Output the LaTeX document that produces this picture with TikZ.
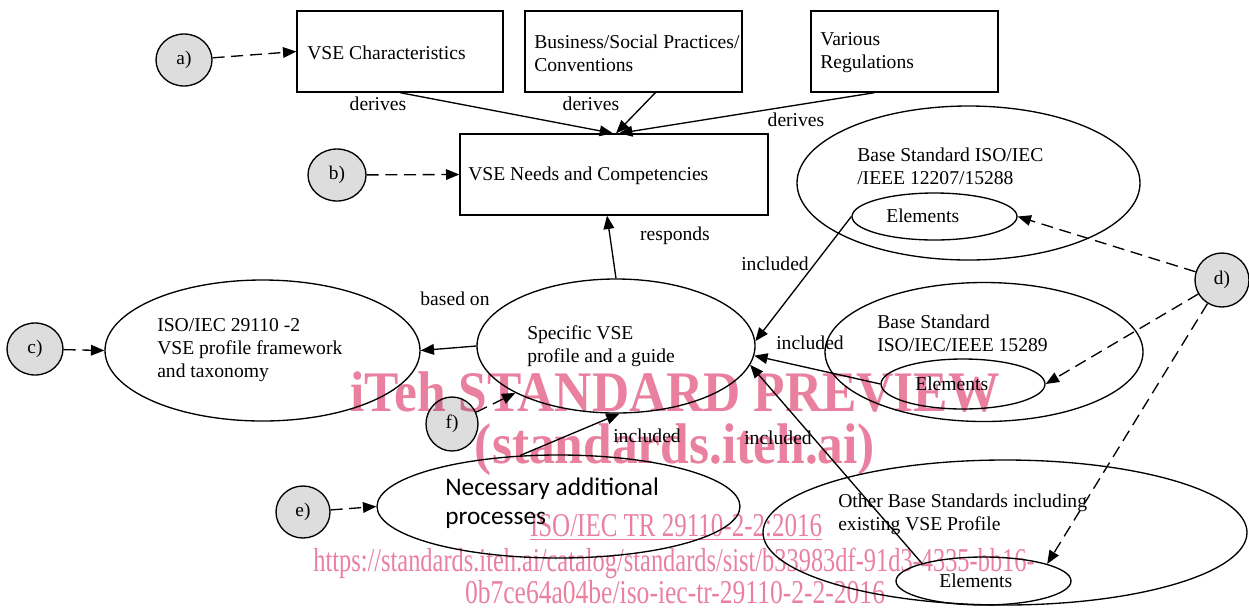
\documentclass[tikz,border=0pt]{standalone}
\usepackage{fontspec}
\setmainfont{Liberation Serif}
\newfontfamily\calib{Carlito}
\usetikzlibrary{shapes.geometric,arrows.meta,calc}
\definecolor{circgray}{RGB}{221,221,221}
\definecolor{wmpink}{RGB}{234,128,160}
\begin{document}
\begin{tikzpicture}[x=0.75pt,y=-0.75pt,
  lab/.style={ellipse,draw,line width=1pt,fill=circgray,inner sep=0pt,font=\fontsize{14.5}{16}\selectfont},
  box/.style={rectangle,draw,line width=1pt,inner sep=0pt},
  ell/.style={ellipse,draw,line width=1pt,inner sep=0pt},
  txt/.style={anchor=west,inner sep=0pt,align=left,font=\fontsize{14.7}{17.25}\selectfont},
  edgelbl/.style={inner sep=0pt,font=\fontsize{14.7}{16}\selectfont},
  arr/.style={line width=1pt,-{Triangle[length=10pt,width=8pt]}},
  darr/.style={arr,dash pattern=on 9pt off 5pt},
  wm/.style={inner sep=0pt,text=wmpink}]
\useasboundingbox (0,0) rectangle (1249,608);

% boxes
\node[box,minimum width=154.5pt,minimum height=60.75pt] (char) at (400,51.5) {};
\node[txt] (chart) at (307,53) {VSE Characteristics};
\node[box,minimum width=162.75pt,minimum height=60.75pt] (business) at (633.5,51.5) {};
\node[txt] (businesst) at (534,53) {Business/Social Practices/\\Conventions};
\node[box,minimum width=140.25pt,minimum height=60.75pt] (various) at (904.5,51.5) {};
\node[txt] (variousst) at (820,53) {Various\\Regulations};
\node[box,minimum width=231pt,minimum height=60.75pt] (needs) at (614,174.5) {};
\node[txt] (needst) at (468,176) {VSE Needs and Competencies};

% ellipses
\node[ell,minimum width=236.25pt,minimum height=105.75pt] (iso) at (262.5,350.5) {};
\node[txt] (isot) at (157,350) {ISO/IEC 29110 -2\\VSE profile framework\\and taxonomy};
\node[ell,minimum width=208.5pt,minimum height=100.5pt] (spec) at (616,346) {};
\node[txt] (spect) at (527,346) {Specific VSE\\profile and a guide};
\node[ell,minimum width=272.25pt,minimum height=77.25pt] (nec) at (558.5,506.5) {};
\node[txt,font=\calib\fontsize{19}{22}\selectfont] (nect) at (445,503) {Necessary additional\\processes};

\node[ell,minimum width=257.25pt,minimum height=115.5pt] (base1) at (968.5,183) {};
\node[txt] (base1t) at (857,166) {Base Standard ISO/IEC\\/IEEE 12207/15288};
\node[ell,minimum width=123.75pt,minimum height=35.25pt] (elem1) at (934.5,216.5) {};
\node[txt] (elem1t) at (886,216) {Elements};

\node[ell,minimum width=238.5pt,minimum height=104.25pt] (base2) at (984,352) {};
\node[txt] (base2t) at (877,333) {Base Standard\\ISO/IEC/IEEE 15289};
\node[ell,minimum width=123pt,minimum height=37.5pt] (elem2) at (963,384) {};
\node[txt] (elem2t) at (915,384) {Elements};

\node[ell,minimum width=363pt,minimum height=108.75pt] (other) at (1005,532.5) {};
\node[txt] (othert) at (838,514) {Other Base Standards including\\existing VSE Profile};
\node[ell,minimum width=131.25pt,minimum height=36pt] (elem3) at (983.5,581) {};
\node[txt] (elem3t) at (939,581) {Elements};

% letter circles
\node[lab,minimum width=42pt,minimum height=39pt] (a) at (184,60) {a)};
\node[lab,minimum width=43.5pt,minimum height=39pt] (b) at (337,175) {b)};
\node[lab,minimum width=42pt,minimum height=39pt] (c) at (35,349) {c)};
\node[lab,minimum width=40.5pt,minimum height=40.5pt] (d) at (1222,280) {d)};
\node[lab,minimum width=40.5pt,minimum height=39pt] (e) at (303,512) {e)};
\node[lab,minimum width=39pt,minimum height=40.5pt] (f) at (452,424) {f)};

% dashed pointers
\draw[darr] (a) -- (char.west);
\draw[darr] (b) -- (needs.west);
\draw[darr] (c) -- (iso.west);
\draw[darr] (e) -- (nec.west);
\draw[darr] (f) -- (spec.205);
\draw[darr] (d) -- (elem1.east);
\draw[darr] (d) -- (elem2.east);
\draw[darr] (d) -- (elem3.15);

% relations
\draw[arr] (char.south) -- ($(needs.north)+(-1,0)$);
\draw[arr] (business.-62) -- ($(needs.north)+(2,0)$);
\draw[arr] (various.-126) -- ($(needs.north)+(5,0)$);
\node[edgelbl] (der1) at (378,104) {derives};
\node[edgelbl] (der2) at (591,104) {derives};
\node[edgelbl] (der3) at (796,120) {derives};
\draw[arr] (spec.north) -- ($(needs.south)+(-7,0)$);
\node[edgelbl] (resp) at (675,236) {responds};
\draw[arr] (spec.west) -- (iso.east);
\node[edgelbl] (based) at (455,299) {based on};
\draw[arr] (nec.127) -- (spec.-87);
\node[edgelbl] (inc1) at (647,436) {included};
\draw[arr] (elem1.west) -- (spec.2);
\node[edgelbl] (inc2) at (775,264) {included};
\draw[arr] (elem2.west) -- (spec.-4);
\node[edgelbl] (inc3) at (810,343) {included};
\draw[arr] (elem3.164) -- (spec.-8);
\node[edgelbl] (inc4) at (778,438) {included};

% watermark
\begin{scope}[blend mode=multiply]
\node[wm,font=\bfseries\fontsize{43}{43}\selectfont] (wm1) at (675,392) {\resizebox{487pt}{\height}{iTeh STANDARD PREVIEW}};
\node[wm,font=\bfseries\fontsize{43}{43}\selectfont] (wm2) at (675,450) {\resizebox{300pt}{\height}{(standards.iteh.ai)}};
\node[wm,font=\fontsize{25}{25}\selectfont] (wm3) at (676,527) {\resizebox{219pt}{\height}{\underline{ISO/IEC TR 29110-2-2:2016}}};
\node[wm,font=\fontsize{25}{25}\selectfont] (wm4) at (674,563) {\resizebox{541pt}{\height}{https://standards.iteh.ai/catalog/standards/sist/b33983df-91d3-4335-bb16-}};
\node[wm,font=\fontsize{25}{25}\selectfont] (wm5) at (675,592) {\resizebox{315pt}{\height}{0b7ce64a04be/iso-iec-tr-29110-2-2-2016}};
\end{scope}
\end{tikzpicture}
\end{document}
